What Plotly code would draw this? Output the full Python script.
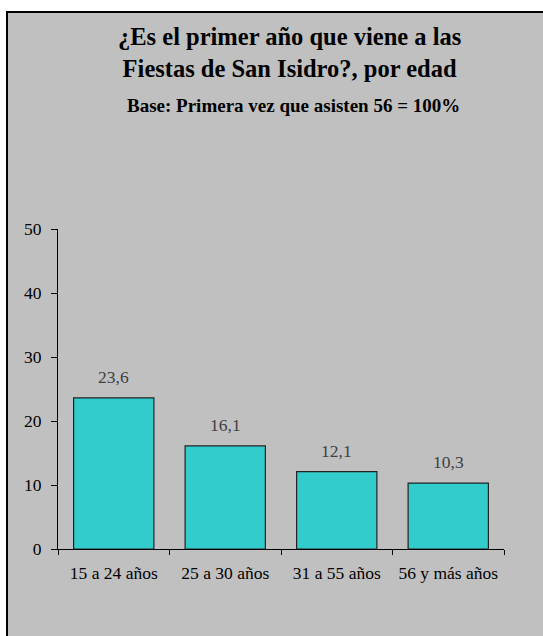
import plotly.graph_objects as go

categorias = ["15 a 24 años", "25 a 30 años", "31 a 55 años", "56 y más años"]
porcentajes = [23.6, 16.1, 12.1, 10.3]
ticks_y = [0, 10, 20, 30, 40, 50]

FONT = "Liberation Serif"
GRIS = "#C0C0C0"
TURQUESA = "#33CCCC"

W, H = 543, 636
L, R, T, B = 58, 39, 229, 87
pw, ph = W - L - R, H - T - B


def px_x(x):
    return (x - L) / pw


def px_y(y):
    return (H - B - y) / ph


fig = go.Figure()
fig.add_trace(go.Bar(
    x=categorias,
    y=porcentajes,
    marker=dict(color=TURQUESA, line=dict(color="#222222", width=1.2)),
    hoverinfo="x+y",
    ))

# etiquetas de datos por encima de cada barra
for cat, val in zip(categorias, porcentajes):
    fig.add_annotation(
        x=cat, y=val, xref="x", yref="y",
        text=("%.1f" % val).replace(".", ","),
        showarrow=False, yanchor="bottom", yshift=9,
        font=dict(family=FONT, size=17.5, color="#404040"),
        )

fig.add_annotation(
    x=px_x(289), y=px_y(21), xref="paper", yref="paper",
    text="¿Es el primer año que viene a las<br>Fiestas de San Isidro?, por edad",
    showarrow=False, xanchor="center", yanchor="top",
    font=dict(family=FONT, size=24.5, color="black", weight="bold"),
    )
fig.add_annotation(
    x=px_x(293), y=px_y(93), xref="paper", yref="paper",
    text="Base: Primera vez que asisten 56 = 100%",
    showarrow=False, xanchor="center", yanchor="top",
    font=dict(family=FONT, size=19, color="black", weight="bold"),
    )

# fondo gris con borde negro (recortado a derecha y abajo)
fig.add_shape(
    type="rect", xref="paper", yref="paper", layer="below",
    x0=px_x(7), x1=px_x(W + 20), y0=px_y(H + 20), y1=px_y(12),
    fillcolor=GRIS, line=dict(color="black", width=2),
    )

fig.update_layout(
    width=W, height=H,
    margin=dict(l=L, r=R, t=T, b=B),
    paper_bgcolor="white",
    plot_bgcolor="rgba(0,0,0,0)",
    bargap=0.28,
    showlegend=False,
    font=dict(family=FONT, size=17.5, color="black"),
    )
fig.update_xaxes(
    type="category", showgrid=False, showline=True, linecolor="black", linewidth=1,
    ticks="outside", tickson="boundaries", ticklen=5, tickcolor="black",
    tickfont=dict(family=FONT, size=17.5, color="black"),
    ticklabelstandoff=8,
    )
fig.update_yaxes(
    range=[0, 50], tickvals=ticks_y, showgrid=False, zeroline=False,
    showline=True, linecolor="black", linewidth=1,
    ticks="outside", ticklen=6, tickcolor="black",
    tickfont=dict(family=FONT, size=17.5, color="black"),
    ticklabelstandoff=6,
    )

fig.write_html("out.html", config={"displayModeBar": False},
               post_script="document.body.style.margin='0px';")
